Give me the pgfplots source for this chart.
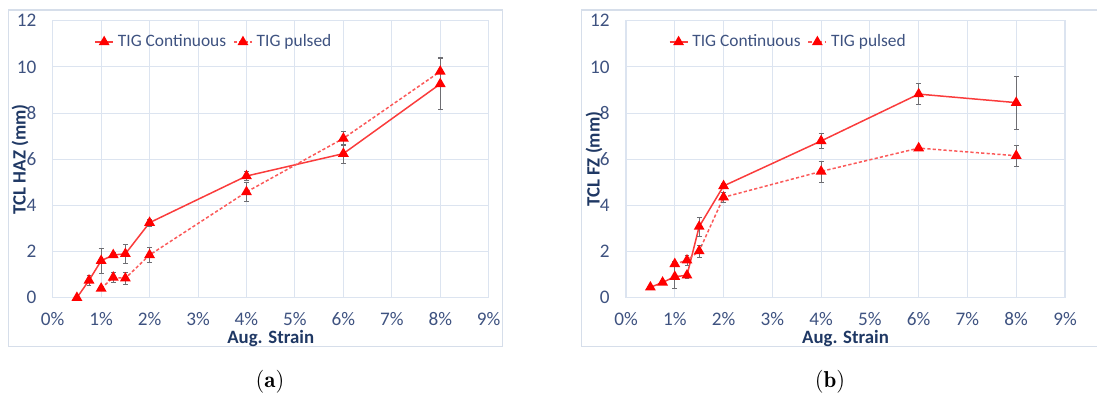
\documentclass[border=0pt]{standalone}
\usepackage{fontspec}
\setmainfont{Carlito}
\usepackage{pgfplots}
\usepackage{pgfplotstable}
\pgfplotsset{compat=1.18}

\definecolor{tickc}{RGB}{62,82,128}
\definecolor{labc}{RGB}{31,56,100}
\definecolor{gridc}{RGB}{220,228,240}
\definecolor{framec}{RGB}{214,222,234}
\definecolor{errc}{RGB}{110,110,115}
\definecolor{linec}{RGB}{250,60,60}

% HAZ: strain (%), TCL (mm), std. dev.
\pgfplotstableread{
x    y     e
0.5  0.00  0.05
0.75 0.75  0.22
1.0  1.60  0.55
1.25 1.85  0.10
1.5  1.90  0.40
2.0  3.25  0.15
4.0  5.27  0.20
6.0  6.24  0.40
8.0  9.26  1.10
}\hazcont
\pgfplotstableread{
x    y     e
1.0  0.40  0.05
1.25 0.88  0.20
1.5  0.84  0.25
2.0  1.85  0.32
4.0  4.58  0.42
6.0  6.90  0.30
8.0  9.80  0.60
}\hazpuls
% FZ
\pgfplotstableread{
x    y     e
0.5  0.45  0.10
0.75 0.66  0.10
1.0  0.91  0.50
1.25 0.97  0.15
1.5  3.08  0.40
2.0  4.84  0.12
4.0  6.79  0.32
6.0  8.82  0.45
8.0  8.45  1.15
}\fzcont
\pgfplotstableread{
x    y     e
1.0  1.46  0.10
1.25 1.62  0.22
1.5  2.02  0.27
2.0  4.35  0.20
4.0  5.47  0.45
6.0  6.48  0.10
8.0  6.15  0.45
}\fzpuls

\pgfplotsset{
  tcl/.style={
    scale only axis,
    width=218pt, height=138.5pt,
    xmin=0, xmax=9, ymin=0, ymax=12,
    xtick={0,...,9},
    xticklabels={0\%,1\%,2\%,3\%,4\%,5\%,6\%,7\%,8\%,9\%},
    ytick={0,2,...,12},
    /pgf/number format/assume math mode=true,
    grid=major,
    grid style={gridc, line width=0.5pt},
    axis line style={gridc, line width=0.6pt},
    major tick length=0pt,
    tick label style={font=\fontsize{9.6}{11}\selectfont, text=tickc},
    xticklabel style={anchor=center, yshift=-10.6pt},
    yticklabel style={anchor=east, inner sep=0pt, xshift=-8pt},
    label style={font=\fontsize{9.4}{11}\selectfont\bfseries, text=labc},
    xlabel={Aug. Strain},
    xlabel style={at={(axis description cs:0.5,0)}, anchor=center, yshift=-20.4pt},
    legend columns=2,
    legend style={draw=none, fill=none, at={(0.372,0.923)}, anchor=center,
      font=\fontsize{8.7}{10}\selectfont, text=tickc,
      /tikz/every even column/.append style={column sep=1.5pt}},
    legend cell align=left,
    legend image code/.code={
      \draw[mark repeat=2, mark phase=2] plot coordinates {(0pt,0pt) (4.5pt,0pt) (9pt,0pt)};
    },
  },
  errstyle/.style={
    error bars/.cd, y dir=both, y explicit,
    error bar style={errc, line width=0.3pt, solid},
    error mark options={rotate=90, mark size=1.2pt, errc, line width=0.3pt}},
  contstyle/.style={linec, line width=0.75pt, mark=triangle*, mark size=2.4pt,
    mark options={solid, fill=red, draw=red}, errstyle},
  pulsstyle/.style={linec!85, line width=0.75pt, dash pattern=on 1.6pt off 1.1pt,
    mark=triangle*, mark size=2.4pt,
    mark options={solid, fill=red, draw=red}, errstyle},
}

\begin{document}
\begin{tikzpicture}
\useasboundingbox (0,0) rectangle (548.5pt,199.5pt);
% chart frames
\draw[framec, line width=0.6pt] (4.15pt,26.15pt) rectangle (251.35pt,194.5pt);
\draw[framec, line width=0.6pt] (548.6pt,194.5pt) -- (290.85pt,194.5pt) -- (290.85pt,26.15pt) -- (548.6pt,26.15pt);

\begin{axis}[tcl, at={(26.35pt,50.65pt)}, anchor=south west,
  ylabel={TCL HAZ (mm)},
  ylabel style={at={(axis description cs:-0.0748,0.5)}, anchor=center}]
\addplot[contstyle] table[x=x, y=y, y error=e] {\hazcont};
\addlegendentry{TIG Continuous}
\addplot[pulsstyle] table[x=x, y=y, y error=e] {\hazpuls};
\addlegendentry{TIG pulsed}
\end{axis}

\begin{axis}[tcl, at={(313pt,50.65pt)}, anchor=south west, width=219.5pt,
  ylabel={TCL FZ (mm)},
  ylabel style={at={(axis description cs:-0.0729,0.5)}, anchor=center}]
\addplot[contstyle] table[x=x, y=y, y error=e] {\fzcont};
\addlegendentry{TIG Continuous}
\addplot[pulsstyle] table[x=x, y=y, y error=e] {\fzpuls};
\addlegendentry{TIG pulsed}
\end{axis}

\node[font=\fontfamily{lmr}\selectfont\fontsize{11.5}{13}\selectfont] at (135pt,8.5pt) {(\textbf{a})};
\node[font=\fontfamily{lmr}\selectfont\fontsize{11.5}{13}\selectfont] at (415pt,8.5pt) {(\textbf{b})};
\end{tikzpicture}
\end{document}
